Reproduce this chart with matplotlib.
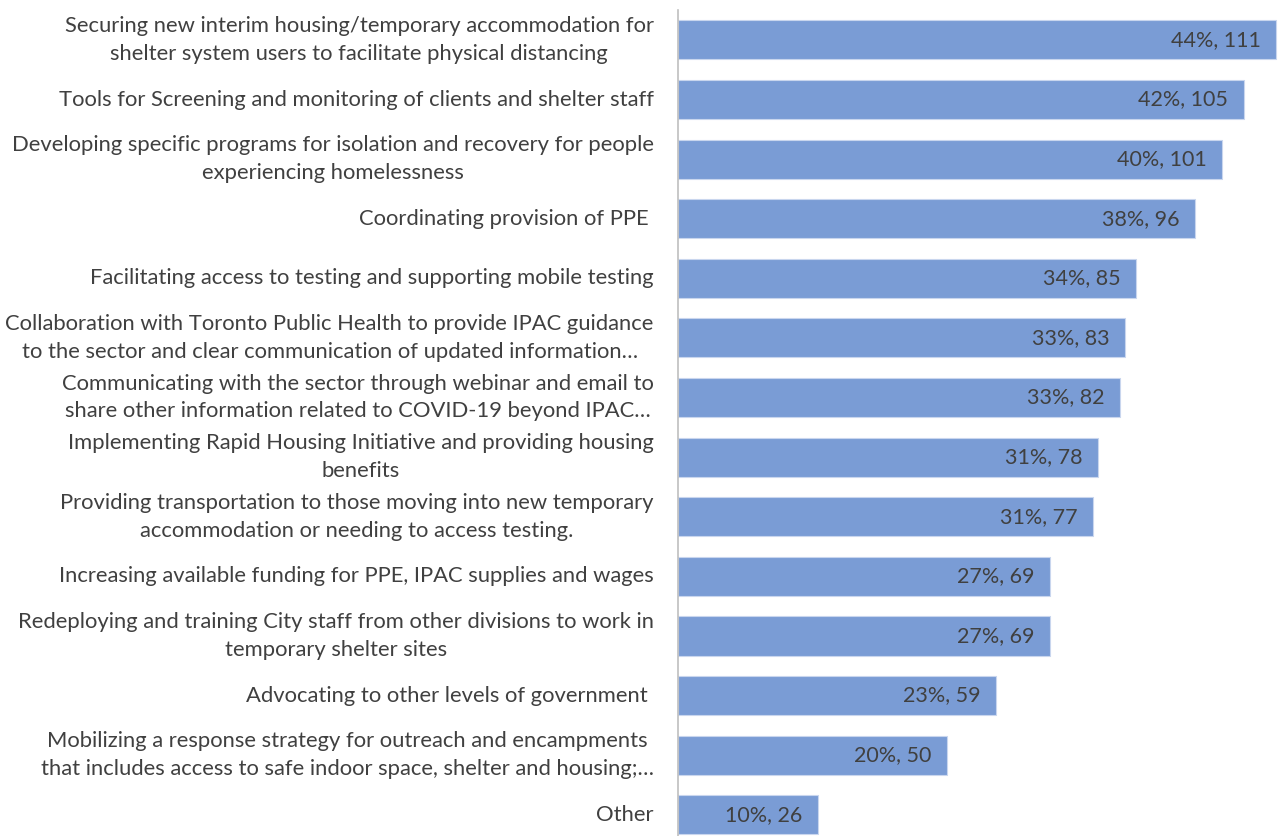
import matplotlib
matplotlib.use("Agg")
import matplotlib.pyplot as plt

plt.rcParams['font.family'] = ['Lato', 'DejaVu Sans']

labels = [
    "Securing new interim housing/temporary accommodation for\nshelter system users to facilitate physical distancing",
    "Tools for Screening and monitoring of clients and shelter staff",
    "Developing specific programs for isolation and recovery for people\nexperiencing homelessness",
    "Coordinating provision of PPE ",
    "Facilitating access to testing and supporting mobile testing",
    "Collaboration with Toronto Public Health to provide IPAC guidance\nto the sector and clear communication of updated information\u2026",
    "Communicating with the sector through webinar and email to\nshare other information related to COVID-19 beyond IPAC\u2026",
    "Implementing Rapid Housing Initiative and providing housing\nbenefits",
    "Providing transportation to those moving into new temporary\naccommodation or needing to access testing.",
    "Increasing available funding for PPE, IPAC supplies and wages",
    "Redeploying and training City staff from other divisions to work in\ntemporary shelter sites",
    "Advocating to other levels of government ",
    "Mobilizing a response strategy for outreach and encampments\nthat includes access to safe indoor space, shelter and housing;\u2026",
    "Other",
]
pcts = [44, 42, 40, 38, 34, 33, 33, 31, 31, 27, 27, 23, 20, 10]
counts = [111, 105, 101, 96, 85, 83, 82, 78, 77, 69, 69, 59, 50, 26]

fig = plt.figure(figsize=(12.8, 8.36), dpi=100)
ax = fig.add_axes([678/1280, 0, 602/1280, 826/836])

ypos = list(range(len(labels)))
ax.barh(ypos, counts, height=0.655, color='#7A9CD5', edgecolor='#C9D6EE', linewidth=0.8)

for y, c, p in zip(ypos, counts, pcts):
    ax.text(c - 2.9, y, "%d%%, %d" % (p, c), ha='right', va='center',
            fontsize=15.5, color='#404040')

for y, lab in zip(ypos, labels):
    ax.text(-4.5, y, lab, ha='right', va='center', multialignment='center',
            fontsize=15.8, color='#404040', linespacing=1.47)

ax.set_xlim(0, 111 * 602 / 598)
ax.set_ylim(13.356, -0.503)
ax.set_xticks([])
ax.set_yticks([])
for s in ['top', 'right', 'bottom']:
    ax.spines[s].set_visible(False)
ax.spines['left'].set_color('#BFBFBF')
ax.spines['left'].set_linewidth(1.2)

fig.savefig('out.png', dpi=100)
